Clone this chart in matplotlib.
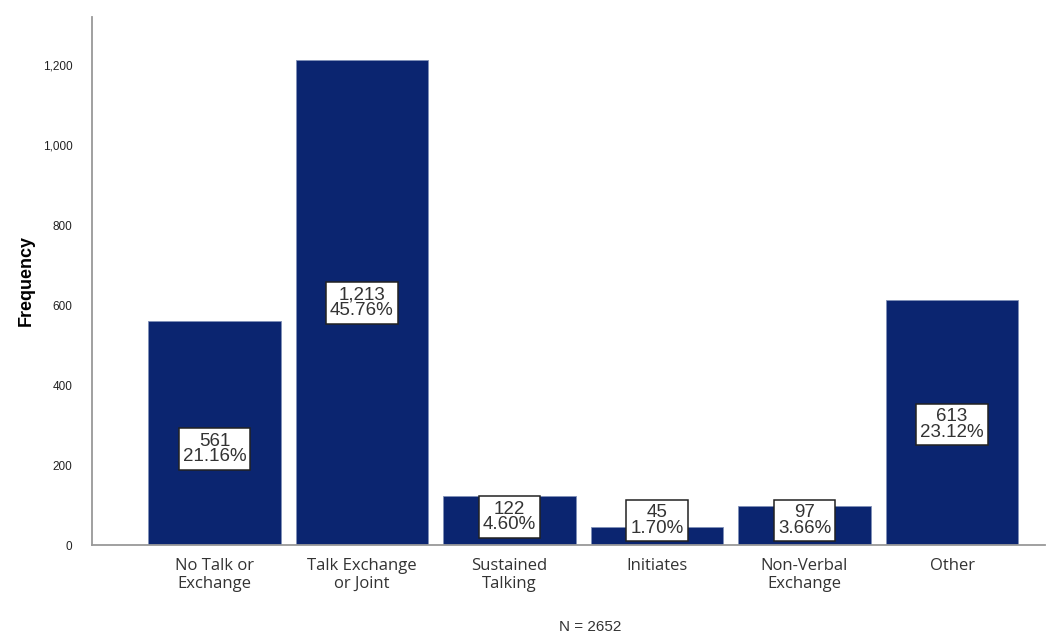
import matplotlib.pyplot as plt
from matplotlib.ticker import FuncFormatter

categories = ['No Talk or\nExchange', 'Talk Exchange\nor Joint', 'Sustained\nTalking',
              'Initiates', 'Non-Verbal\nExchange', 'Other']
counts = [561, 1213, 122, 45, 97, 613]
percents = [21.16, 45.76, 4.60, 1.70, 3.66, 23.12]
total_n = 2652

# vertical anchor for each value box
label_y = [240, 605, 70, 62, 62, 302]

fig = plt.figure(figsize=(10.59, 6.34), dpi=100)
ax = fig.add_axes([92 / 1059, 1 - 545 / 634, (1045 - 92) / 1059, (545 - 17) / 634])

x = range(len(categories))
ax.bar(x, counts, width=0.9, color='#0b2570', edgecolor='#8090b8', linewidth=0.6, zorder=2)

for xi, c, p, ly in zip(x, counts, percents, label_y):
    ax.text(xi, ly, f'{c:,}\n{p:.2f}%', ha='center', va='center',
            fontsize=13.5, family='Liberation Sans', color='#333333', linespacing=0.92, zorder=3,
            bbox=dict(boxstyle='square,pad=0.22', facecolor='white', edgecolor='#222222', linewidth=1.1))

ax.set_xlim(-0.83, 5.63)
ax.set_ylim(0, 1320)
ax.set_yticks(range(0, 1201, 200))
ax.yaxis.set_major_formatter(FuncFormatter(lambda v, _: f'{int(v):,}'))
ax.set_xticks(list(x))
ax.set_xticklabels(categories, fontsize=12, family='Open Sans', color='#333333', linespacing=1.2)
ax.tick_params(axis='x', length=0, pad=9)
ax.tick_params(axis='y', length=0, pad=14, labelsize=8.5, labelcolor='#222222')
for lbl in ax.get_yticklabels():
    lbl.set_family('Liberation Sans')

for side in ['top', 'right']:
    ax.spines[side].set_visible(False)
for side in ['left', 'bottom']:
    ax.spines[side].set_color('#999999')
    ax.spines[side].set_linewidth(1.3)

ax.set_ylabel('Frequency', fontsize=13, fontweight='bold', family='Liberation Sans', labelpad=6)
fig.text(590 / 1059, 1 - 627 / 634, f'N = {total_n}', ha='center', va='center',
         fontsize=11, family='Liberation Sans', color='#333333')

fig.savefig('out.png', dpi=100)
